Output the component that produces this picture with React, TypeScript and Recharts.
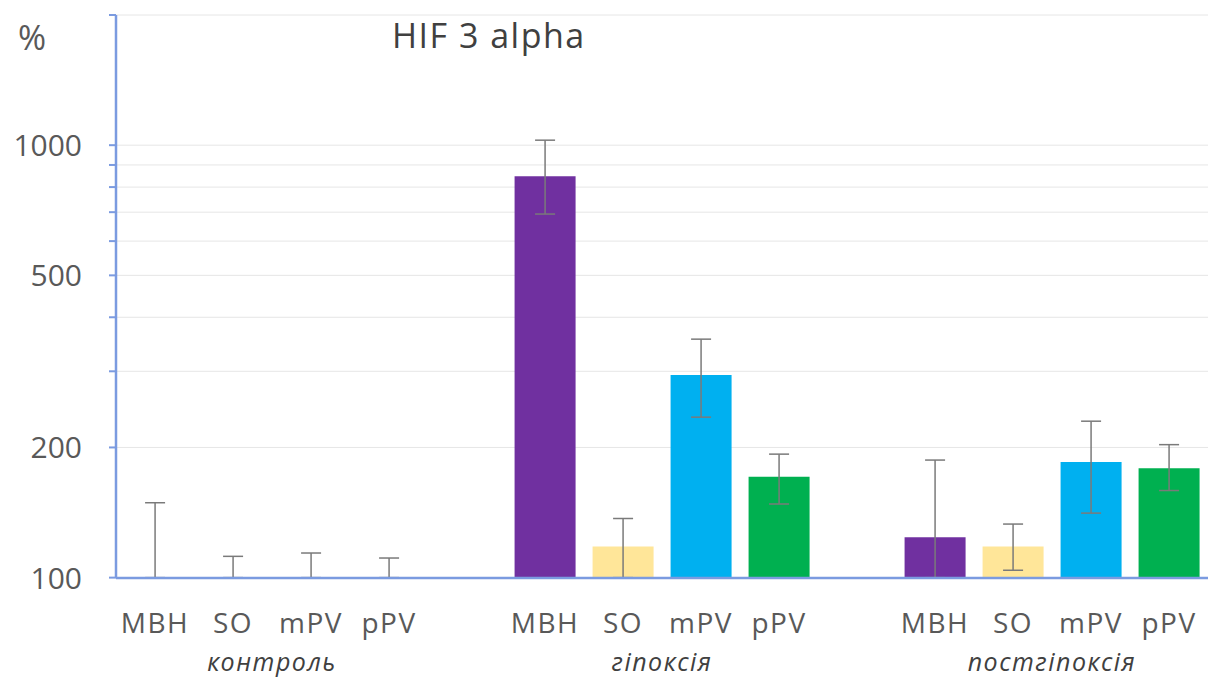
import React from 'react';
import { BarChart, Bar, XAxis, YAxis, CartesianGrid, ErrorBar, Cell } from 'recharts';

const categories = ['MBH', 'SO', 'mPV', 'pPV'];
const groups = ['контроль', 'гіпоксія', 'постгіпоксія'];
const colors = ['#7030A0', '#FFE699', '#00B0F0', '#00B050'];

// mean values per group (%, log scale)
const controlValues = [100, 100, 100, 100];
const hypoxiaValues = [848, 118, 294, 171];
const posthypoxiaValues = [124, 118, 185, 179];

// error bars as [down, up] deltas
const controlErrors = [[0, 49], [0, 12], [0, 14], [0, 11]];
const hypoxiaErrors = [[155, 179], [18, 19], [59, 62], [23, 22]];
const posthypoxiaErrors = [[24, 63], [14, 15], [44, 45], [20, 24]];

const yTicks = [100, 200, 300, 400, 500, 600, 700, 800, 900, 1000, 2000];
const yLabels = [100, 200, 500, 1000];

const groupValues = [controlValues, hypoxiaValues, posthypoxiaValues];
const groupErrors = [controlErrors, hypoxiaErrors, posthypoxiaErrors];

type Row = { slot: string; cat: string; ci: number; gi: number; value?: number; err?: number[] };

const rows: Row[] = [];
groups.forEach((g, gi) => {
  categories.forEach((c, ci) => {
    rows.push({ slot: `${gi}-${ci}`, cat: c, ci, gi, value: groupValues[gi][ci], err: groupErrors[gi][ci] });
  });
  if (gi < groups.length - 1) rows.push({ slot: `gap${gi}`, cat: '', ci: -1, gi });
});

const W = 1213;
const H = 682;
const margin = { top: 15, right: 5, left: 0, bottom: 0 };
const yAxisWidth = 116;
const xAxisHeight = 104;
const slotHalf = (W - margin.left - margin.right - yAxisWidth) / rows.length / 2;

const textColor = '#595959';
const font = '"Open Sans", sans-serif';

const XTick = (props: any) => {
  const { x, index } = props;
  const row = rows[index];
  if (!row) return null;
  const top = H - xAxisHeight;
  return (
    <g>
      <text x={x} y={top + 55} textAnchor="middle" fill={textColor} fontSize={28} fontFamily={font} letterSpacing={1.5}>
        {row.cat}
      </text>
      {row.ci === 1 && (
        <text x={x + slotHalf} y={top + 93} textAnchor="middle" fill="#404040" fontSize={25} fontStyle="italic" fontFamily={font} letterSpacing={1.5}>
          {groups[row.gi]}
        </text>
      )}
    </g>
  );
};

const YTick = (props: any) => {
  const { x, y, payload } = props;
  if (!yLabels.includes(payload.value)) return null;
  return (
    <text x={x - 25} y={y} dy={11} textAnchor="end" fill={textColor} fontSize={30} fontFamily={font}>
      {payload.value}
    </text>
  );
};

export default function App() {
  return (
    <div style={{ position: 'absolute', left: 0, top: 0, width: W, height: H, background: '#fff' }}>
      <BarChart width={W} height={H} data={rows} margin={margin} barCategoryGap="11%">
        <CartesianGrid vertical={false} stroke="#e6e6e6" />
        <XAxis
          dataKey="slot"
          interval={0}
          height={xAxisHeight}
          tick={<XTick />}
          tickLine={false}
          axisLine={{ stroke: '#7b9be0', strokeWidth: 2.5 }}
        />
        <YAxis
          scale="log"
          domain={[99.8, 2000]}
          ticks={yTicks}
          interval={0}
          allowDataOverflow
          width={yAxisWidth}
          tick={<YTick />}
          tickSize={7}
          tickLine={{ stroke: '#7b9be0', strokeWidth: 2 }}
          axisLine={{ stroke: '#7b9be0', strokeWidth: 2.5 }}
        />
        <Bar dataKey="value" isAnimationActive={false}>
          {rows.map((r, i) => (
            <Cell key={i} fill={r.ci >= 0 ? colors[r.ci] : 'none'} />
          ))}
          <ErrorBar dataKey="err" width={10} stroke="#7a7a7a" strokeWidth={1.5} direction="y" />
        </Bar>
        <text x={18} y={50} fill={textColor} fontSize={34} fontFamily={font}>%</text>
        <text x={392} y={48} fill="#404040" fontSize={34} fontFamily={font} letterSpacing={1.5}>HIF 3 alpha</text>
      </BarChart>
    </div>
  );
}
